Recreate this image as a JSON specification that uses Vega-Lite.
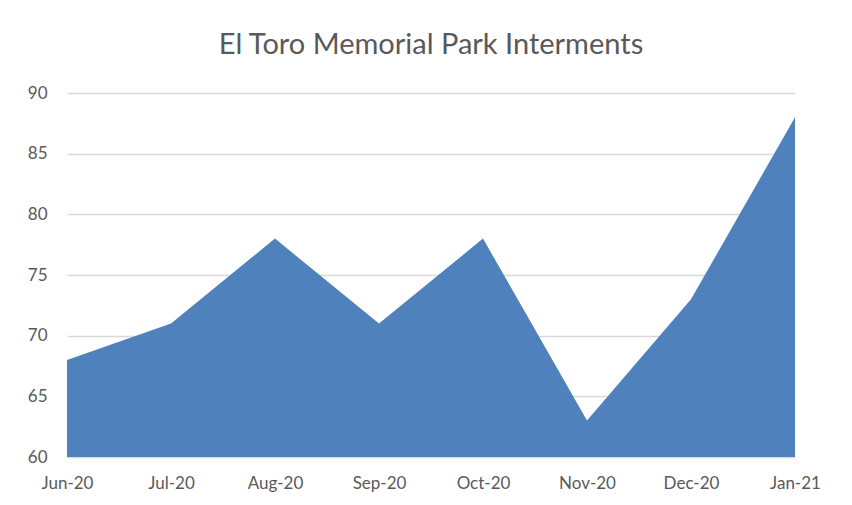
{
  "$schema": "https://vega.github.io/schema/vega-lite/v6.json",
  "width": 728,
  "height": 364,
  "autosize": {"type": "none"},
  "padding": {"left": 67, "top": 93, "right": 57, "bottom": 48},
  "background": "white",
  "title": {
    "text": "El Toro Memorial Park Interments",
    "font": "Lato",
    "fontSize": 29,
    "fontWeight": "normal",
    "color": "#595959",
    "anchor": "middle",
    "offset": 24
  },
  "data": {
    "values": [
      {"month": "Jun-20", "count": 68},
      {"month": "Jul-20", "count": 71},
      {"month": "Aug-20", "count": 78},
      {"month": "Sep-20", "count": 71},
      {"month": "Oct-20", "count": 78},
      {"month": "Nov-20", "count": 63},
      {"month": "Dec-20", "count": 73},
      {"month": "Jan-21", "count": 88}
    ]
  },
  "mark": {"type": "area", "color": "#4f81bd", "opacity": 1, "clip": true},
  "encoding": {
    "x": {
      "field": "month",
      "type": "ordinal",
      "sort": null,
      "scale": {"type": "point", "padding": 0},
      "axis": {
        "title": null,
        "labelAngle": 0,
        "domain": false,
        "ticks": false,
        "grid": false,
        "labelFont": "Lato",
        "labelFontSize": 17,
        "labelColor": "#595959",
        "labelPadding": 18
      }
    },
    "y": {
      "field": "count",
      "type": "quantitative",
      "scale": {"domain": [60, 90], "zero": false, "nice": false},
      "axis": {
        "title": null,
        "values": [60, 65, 70, 75, 80, 85, 90],
        "domain": false,
        "ticks": false,
        "grid": true,
        "gridColor": "#d9d9d9",
        "gridWidth": 1.5,
        "labelFont": "Lato",
        "labelFontSize": 17,
        "labelColor": "#595959",
        "labelPadding": 20
      }
    }
  },
  "config": {"view": {"stroke": null}}
}
